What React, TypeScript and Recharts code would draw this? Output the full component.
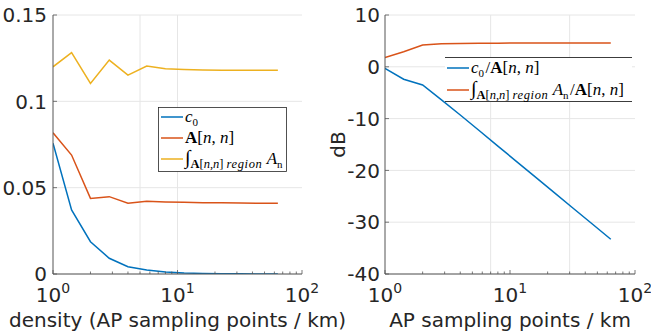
import React from 'react';
import { LineChart, Line, XAxis, YAxis, CartesianGrid, ReferenceLine, Legend } from 'recharts';

const density = [1, 1.41, 2, 2.83, 4, 5.66, 8, 11.3, 16, 22.6, 32, 45.3, 64];
const c0Values = [0.0757, 0.0371, 0.0187, 0.0091, 0.0042, 0.0023, 0.0012, 0.0006, 0.0003, 0.00015, 0.0001, 0.00005, 0.00003];
const annValues = [0.0818, 0.0689, 0.0438, 0.0448, 0.041, 0.0421, 0.0417, 0.0415, 0.0413, 0.0412, 0.0411, 0.041, 0.041];
const integralValues = [0.12, 0.1282, 0.1104, 0.1239, 0.1152, 0.1204, 0.1189, 0.1185, 0.1182, 0.118, 0.118, 0.118, 0.118];
const c0RatioDb = [-0.3, -2.4, -3.5, -6.4, -9.3, -12.3, -15.3, -18.3, -21.3, -24.3, -27.3, -30.3, -33.3];
const integralRatioDb = [1.8, 2.9, 4.2, 4.45, 4.5, 4.55, 4.55, 4.6, 4.6, 4.6, 4.6, 4.6, 4.6];

const xMajorTicks = [1, 10, 100];
const xMinorTicks = [2, 3, 4, 5, 6, 7, 8, 9, 20, 30, 40, 50, 60, 70, 80, 90];
const leftYTicks = [0, 0.05, 0.1, 0.15];
const rightYTicks = [-40, -30, -20, -10, 0, 10];
const leftVGrid = [5, 10];
const rightVGrid = [7, 30];

const BLUE = '#0072BD';
const ORANGE = '#D95319';
const YELLOW = '#EDB120';
const INK = '#262626';
const AXIS = '#555555';
const GRID = '#e6e6e6';
const SANS = 'DejaVu Sans';
const SERIF = 'Liberation Serif';

const allXTicks = [...xMajorTicks, ...xMinorTicks].sort((a, b) => a - b);

const leftData = density.map((x, i) => ({ x, c0: c0Values[i], ann: annValues[i], integ: integralValues[i] }));
const rightData = density.map((x, i) => ({ x, c0r: c0RatioDb[i], intr: integralRatioDb[i] }));

const XTick = (props: any) => {
  const { x, y, payload, top } = props;
  const v = payload.value;
  const major = xMajorTicks.includes(v);
  const len = major ? 4 : 2.5;
  const dir = top ? 1 : -1;
  return (
    <g>
      <line x1={x} x2={x} y1={y} y2={y + dir * len} stroke={AXIS} strokeWidth={0.8} />
      {!top && major && (
        <text x={x} y={y + 28} textAnchor="middle" fontSize={20} fill={INK} fontFamily={SANS}>
          10<tspan dy={-9} fontSize={14}>{Math.round(Math.log10(v))}</tspan>
        </text>
      )}
    </g>
  );
};

const YTick = (props: any) => {
  const { x, y, payload, right, gap } = props;
  const dir = right ? -1 : 1;
  const v = payload.value;
  const label = v === 0 ? '0' : String(v);
  return (
    <g>
      <line x1={x} x2={x + dir * 4} y1={y} y2={y} stroke={AXIS} strokeWidth={0.8} />
      {!right && (
        <text x={x - (gap || 6)} y={y} dy="0.36em" textAnchor="end" fontSize={20} fill={INK} fontFamily={SANS}>
          {label}
        </text>
      )}
    </g>
  );
};

const xLabel = (text: string) => (p: any) => {
  const vb = p.viewBox;
  return (
    <text x={vb.x + vb.width / 2} y={327} textAnchor="middle" fontSize={20} fill={INK} fontFamily={SANS}>
      {text}
    </text>
  );
};

const dbLabel = () => (
  <text x={25} y={144.5} textAnchor="middle" fontSize={20} fill={INK} fontFamily={SANS} transform="rotate(-90 25 144.5)">
    dB
  </text>
);

const Sub = ({ children, size = 11, dy = 4 }: any) => (
  <>
    <tspan fontSize={size} dy={dy}>{children}</tspan>
    <tspan dy={-dy}>{'\u200a'}</tspan>
  </>
);

const RegionSub = () => (
  <>
    <tspan fontSize={12.5} dy={4} fontWeight="bold">A</tspan>
    <tspan fontSize={12.5}>[</tspan>
    <tspan fontSize={12.5} fontStyle="italic">n</tspan>
    <tspan fontSize={12.5}>,</tspan>
    <tspan fontSize={12.5} fontStyle="italic">n</tspan>
    <tspan fontSize={12.5}>] </tspan>
    <tspan fontSize={12.5} fontStyle="italic" letterSpacing={0.6}>region</tspan>
    <tspan dy={-4} fontSize={17}> </tspan>
  </>
);

const LeftLegend = () => (
  <svg width={130} height={66} style={{ display: 'block' }}>
    <rect x={0.5} y={0.5} width={128} height={64} fill="#fff" stroke={INK} strokeWidth={0.8} />
    <line x1={3} x2={25} y1={10} y2={10} stroke={BLUE} strokeWidth={1.5} />
    <text x={27} y={15} fontFamily={SERIF} fontSize={17} fill="#000">
      <tspan fontStyle="italic">c</tspan>
      <Sub>0</Sub>
    </text>
    <line x1={3} x2={25} y1={31} y2={31} stroke={ORANGE} strokeWidth={1.5} />
    <text x={27} y={36} fontFamily={SERIF} fontSize={17} fill="#000">
      <tspan fontWeight="bold">A</tspan>
      <tspan>[</tspan>
      <tspan fontStyle="italic">n</tspan>
      <tspan>, </tspan>
      <tspan fontStyle="italic">n</tspan>
      <tspan>]</tspan>
    </text>
    <line x1={3} x2={25} y1={52} y2={52} stroke={YELLOW} strokeWidth={1.5} />
    <text x={27} y={57} fontFamily={SERIF} fontSize={17} fill="#000">
      <tspan fontSize={20}>∫</tspan>
      <RegionSub />
      <tspan fontStyle="italic">A</tspan>
      <Sub>n</Sub>
    </text>
  </svg>
);

const RightLegend = () => (
  <svg width={190} height={46} style={{ display: 'block' }}>
    <rect x={0} y={0} width={187} height={45} fill="#fff" />
    <line x1={0} x2={187} y1={0.5} y2={0.5} stroke={INK} strokeWidth={0.9} />
    <line x1={0} x2={187} y1={44.5} y2={44.5} stroke={INK} strokeWidth={0.9} />
    <line x1={2} x2={24} y1={11} y2={11} stroke={BLUE} strokeWidth={1.5} />
    <text x={26} y={16} fontFamily={SERIF} fontSize={17} fill="#000">
      <tspan fontStyle="italic">c</tspan>
      <Sub>0</Sub>
      <tspan>/</tspan>
      <tspan fontWeight="bold">A</tspan>
      <tspan>[</tspan>
      <tspan fontStyle="italic">n</tspan>
      <tspan>, </tspan>
      <tspan fontStyle="italic">n</tspan>
      <tspan>]</tspan>
    </text>
    <line x1={2} x2={24} y1={33} y2={33} stroke={ORANGE} strokeWidth={1.5} />
    <text x={26} y={38} fontFamily={SERIF} fontSize={17} fill="#000">
      <tspan fontSize={20}>∫</tspan>
      <RegionSub />
      <tspan fontStyle="italic">A</tspan>
      <Sub>n</Sub>
      <tspan>/</tspan>
      <tspan fontWeight="bold">A</tspan>
      <tspan>[</tspan>
      <tspan fontStyle="italic">n</tspan>
      <tspan>, </tspan>
      <tspan fontStyle="italic">n</tspan>
      <tspan>]</tspan>
    </text>
  </svg>
);

const axisCommon = {
  dataKey: 'x',
  type: 'number' as const,
  scale: 'log' as const,
  domain: [1, 100],
  allowDataOverflow: true,
  ticks: allXTicks,
  interval: 0 as const,
  tickLine: false,
  tickSize: 0,
  tickMargin: 0,
  axisLine: { stroke: AXIS },
};

export default function App() {
  return (
    <div style={{ position: 'absolute', left: 0, top: 0, width: 651, height: 334, background: '#fff', overflow: 'hidden' }}>
      <div style={{ position: 'absolute', left: 0, top: 0 }}>
        <LineChart width={360} height={334} data={leftData} margin={{ top: 15, right: 58, bottom: 0, left: 0 }}>
          <CartesianGrid vertical={false} stroke={GRID} />
          {leftVGrid.map((v) => (
            <ReferenceLine key={v} x={v} stroke={GRID} strokeWidth={1} />
          ))}
          <XAxis {...axisCommon} tick={<XTick />} height={60} label={{ content: xLabel('density (AP sampling points / km)') }} />
          <XAxis {...axisCommon} xAxisId="top" orientation="top" tick={<XTick top />} height={0} />
          <YAxis
            type="number"
            domain={[0, 0.15]}
            allowDataOverflow
            ticks={leftYTicks}
            interval={0}
            tick={<YTick />}
            tickLine={false}
            tickSize={0}
            tickMargin={0}
            width={53}
            axisLine={{ stroke: AXIS }}
          />
          <YAxis
            yAxisId="right"
            orientation="right"
            type="number"
            domain={[0, 0.15]}
            allowDataOverflow
            ticks={leftYTicks}
            interval={0}
            tick={<YTick right />}
            tickLine={false}
            tickSize={0}
            tickMargin={0}
            width={0}
            axisLine={{ stroke: AXIS }}
          />
          <Line type="linear" dataKey="integ" stroke={YELLOW} strokeWidth={1.5} dot={false} isAnimationActive={false} />
          <Line type="linear" dataKey="ann" stroke={ORANGE} strokeWidth={1.5} dot={false} isAnimationActive={false} />
          <Line type="linear" dataKey="c0" stroke={BLUE} strokeWidth={1.5} dot={false} isAnimationActive={false} />
          <Legend
            layout="horizontal"
            verticalAlign="middle"
            align="center"
            content={() => <LeftLegend />}
            wrapperStyle={{ left: 158, top: 107, width: 130, height: 66 }}
          />
        </LineChart>
      </div>
      <div style={{ position: 'absolute', left: 320, top: 0 }}>
        <LineChart width={331} height={334} data={rightData} margin={{ top: 15, right: 16, bottom: 0, left: 0 }}>
          <CartesianGrid vertical={false} stroke={GRID} />
          {rightVGrid.map((v) => (
            <ReferenceLine key={v} x={v} stroke={GRID} strokeWidth={1} />
          ))}
          <XAxis {...axisCommon} tick={<XTick />} height={60} label={{ content: xLabel('AP sampling points / km') }} />
          <XAxis {...axisCommon} xAxisId="top" orientation="top" tick={<XTick top />} height={0} />
          <YAxis
            type="number"
            domain={[-40, 10]}
            allowDataOverflow
            ticks={rightYTicks}
            interval={0}
            tick={<YTick gap={5} />}
            tickLine={false}
            tickSize={0}
            tickMargin={0}
            width={65}
            axisLine={{ stroke: AXIS }}
            label={{ content: dbLabel }}
          />
          <YAxis
            yAxisId="right"
            orientation="right"
            type="number"
            domain={[-40, 10]}
            allowDataOverflow
            ticks={rightYTicks}
            interval={0}
            tick={<YTick right />}
            tickLine={false}
            tickSize={0}
            tickMargin={0}
            width={0}
            axisLine={{ stroke: AXIS }}
          />
          <Line type="linear" dataKey="intr" stroke={ORANGE} strokeWidth={1.5} dot={false} isAnimationActive={false} />
          <Line type="linear" dataKey="c0r" stroke={BLUE} strokeWidth={1.5} dot={false} isAnimationActive={false} />
          <Legend
            layout="horizontal"
            verticalAlign="middle"
            align="center"
            content={() => <RightLegend />}
            wrapperStyle={{ left: 125, top: 57, width: 190, height: 46 }}
          />
        </LineChart>
      </div>
    </div>
  );
}
